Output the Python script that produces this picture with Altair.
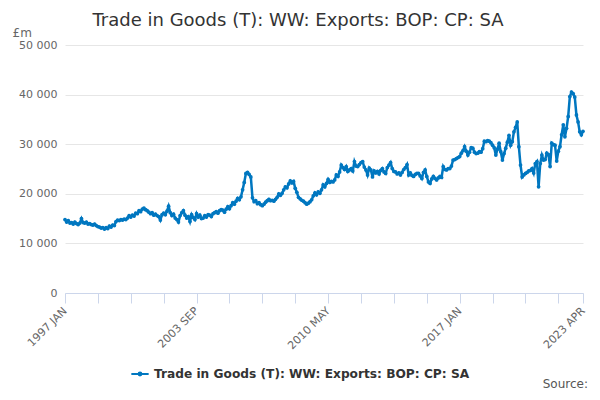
import altair as alt
import pandas as pd

SERIES = "Trade in Goods (T): WW: Exports: BOP: CP: SA"
COLOR = "#0077c0"

tick_label_pos = [0, 80, 160, 240, 315]
tick_labels = ["1997 JAN", "2003 SEP", "2010 MAY", "2017 JAN", "2023 APR"]
month_names = ["JAN", "FEB", "MAR", "APR", "MAY", "JUN", "JUL", "AUG", "SEP", "OCT", "NOV", "DEC"]

v1997 = [14800, 14300, 14600, 14100, 14200, 13900, 14300, 14000, 13800, 14100, 15000, 14200]
v1998 = [14100, 14300, 13900, 14000, 13800, 13700, 13900, 13600, 13400, 13300, 13100, 13200]
v1999 = [12900, 13200, 13000, 13500, 13300, 13700, 13600, 14400, 14700, 14600, 14800, 14700]
v2000 = [14900, 14800, 15100, 15600, 15300, 15700, 15500, 16100, 16000, 16600, 16400, 16900]
v2001 = [17100, 16800, 16600, 16300, 16000, 16200, 15700, 15900, 15600, 15400, 14700, 15800]
v2002 = [16100, 15800, 16500, 17500, 16200, 15600, 15900, 15100, 14800, 14300, 15600, 16200]
v2003 = [16600, 15700, 15100, 15400, 14400, 15800, 15200, 14800, 16000, 15300, 15700, 15000]
v2004 = [15100, 15600, 15300, 15800, 15700, 15400, 16000, 16200, 16400, 16100, 16600, 16800]
v2005 = [16700, 16300, 16900, 17400, 17000, 17600, 18200, 17900, 18500, 19100, 18800, 19400]
v2006 = [20800, 22300, 24100, 24300, 23900, 23400, 19200, 18400, 18600, 18000, 18200, 17800]
v2007 = [17600, 17900, 18300, 18600, 18900, 18600, 18700, 18500, 18900, 19300, 20000, 19700]
v2008 = [20100, 20800, 21400, 21200, 22000, 22600, 22200, 22500, 21100, 20300, 19300, 19000]
v2009 = [18700, 18500, 18200, 17900, 18100, 18400, 18800, 19600, 20200, 19800, 20400, 20100]
v2010 = [20800, 21800, 21400, 22100, 22900, 22300, 22500, 22400, 22800, 23800, 23500, 24400]
v2011 = [25800, 25300, 24900, 25500, 24500, 24800, 25100, 24600, 26500, 25600, 25500, 25900]
v2012 = [26300, 26500, 25400, 24800, 23800, 25200, 24800, 23400, 24600, 24200, 24500, 24000]
v2013 = [24700, 25100, 24400, 24100, 25300, 25800, 26300, 25100, 24500, 24400, 24000, 24200]
v2014 = [23800, 24300, 24900, 25300, 25900, 23800, 24200, 23700, 23500, 23900, 24100, 24100]
v2015 = [23600, 23100, 24300, 24800, 23500, 22400, 22100, 23000, 23500, 23100, 22800, 23200]
v2016 = [23500, 23300, 25500, 24900, 24800, 25100, 25100, 25600, 26800, 26900, 27100, 27300]
v2017 = [27500, 28200, 28700, 29500, 28600, 27800, 28400, 29300, 29200, 28400, 28100, 28200]
v2018 = [28500, 28400, 29100, 30600, 30500, 30700, 30600, 30300, 29800, 29300, 27800, 29000]
v2019 = [30200, 28500, 26800, 28100, 29200, 30400, 31800, 29800, 30500, 32500, 33400, 34500]
v2020 = [29500, 25800, 23400, 23800, 24100, 24300, 24600, 24700, 25100, 24200, 26100, 26500]
v2021 = [21400, 26100, 27800, 26800, 26900, 28200, 27900, 25500, 30200, 29900, 29800, 26600]
v2022 = [28600, 29500, 31900, 33900, 31500, 33200, 35600, 39600, 40500, 40200, 39500, 35900]
v2023 = [34500, 32500, 31900, 32600]

values = (v1997 + v1998 + v1999 + v2000 + v2001 + v2002 + v2003 + v2004 + v2005
          + v2006 + v2007 + v2008 + v2009 + v2010 + v2011 + v2012 + v2013 + v2014
          + v2015 + v2016 + v2017 + v2018 + v2019 + v2020 + v2021 + v2022 + v2023)

months = [f"{1997 + i // 12} {month_names[i % 12]}" for i in range(len(values))]
df = pd.DataFrame({"idx": list(range(len(values))), "month": months,
                   "value": values, "series": SERIES})

tick_vals = list(range(0, 301, 20)) + [315]
label_expr = "''"
for p, l in reversed(list(zip(tick_label_pos, tick_labels))):
    label_expr = f"datum.value == {p} ? '{l}' : ({label_expr})"

legend_symbol = "M-1,0L1,0M-0.16,0a0.16,0.16 0 1,0 0.32,0a0.16,0.16 0 1,0 -0.32,0"

line = alt.Chart(df).mark_line(
    strokeWidth=2.5,
    point=alt.OverlayMarkDef(size=14, filled=True),
).encode(
    x=alt.X("idx:Q", scale=alt.Scale(domain=[0, 315], nice=False, zero=False),
            axis=alt.Axis(values=tick_vals, labelExpr=label_expr, labelAngle=-45,
                          labelAlign="right", labelBaseline="middle", labelPadding=6,
                          labelColor="#666", labelFontSize=11, labelOverlap=False,
                          labelFlush=False, domainColor="#ccd6eb", tickColor="#ccd6eb",
                          tickSize=10, grid=False, title=None)),
    y=alt.Y("value:Q", scale=alt.Scale(domain=[0, 50000], nice=False),
            axis=alt.Axis(values=[0, 10000, 20000, 30000, 40000, 50000],
                          labelExpr="replace(format(datum.value, ','), ',', ' ')",
                          grid=True, gridColor="#e6e6e6", domain=False, ticks=False,
                          labelColor="#666", labelFontSize=11, labelPadding=8,
                          title="£m", titleAngle=0, titleAlign="left",
                          titleBaseline="middle", titleX=-53, titleY=-13,
                          titleFontWeight="normal", titleColor="#666", titleFontSize=12)),
    color=alt.Color("series:N", scale=alt.Scale(domain=[SERIES], range=[COLOR]),
                    legend=alt.Legend(orient="none", legendX=65, legendY=319, title=None,
                                      labelFont="DejaVu Sans", labelFontWeight="bold",
                                      labelFontSize=12.2, labelColor="#333",
                                      symbolType=legend_symbol, symbolSize=300,
                                      symbolStrokeWidth=2, symbolFillColor=COLOR,
                                      labelLimit=600)),
)

source = alt.Chart(pd.DataFrame({"t": ["Source:"]})).mark_text(
    align="right", baseline="middle", fontSize=12, color="#555"
).encode(x=alt.value(523), y=alt.value(339), text="t:N")

chart = alt.layer(line, source).properties(
    width=518, height=248,
    title=alt.TitleParams(SERIES, fontSize=18, fontWeight="normal", color="#333",
                          anchor="middle", dx=-26, offset=-4),
    autosize=alt.AutoSizeParams(type="none"),
    padding={"left": 57, "top": 37, "right": 9, "bottom": 99},
).configure(font="DejaVu Sans").configure_view(stroke=None)

chart.save("out.html", embed_options={"renderer": "svg", "actions": False})
